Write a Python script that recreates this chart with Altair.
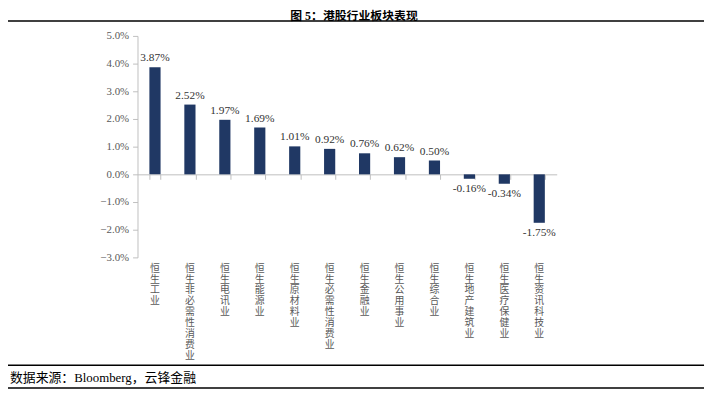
import altair as alt
import pandas as pd

categories = ["恒生工业", "恒生非必需性消费业", "恒生电讯业", "恒生能源业", "恒生原材料业",
              "恒生必需性消费业", "恒生金融业", "恒生公用事业", "恒生综合业", "恒生地产建筑业",
              "恒生医疗保健业", "恒生资讯科技业"]
values = [3.87, 2.52, 1.97, 1.69, 1.01, 0.92, 0.76, 0.62, 0.50, -0.16, -0.34, -1.75]
y_ticks = [-3, -2, -1, 0, 1, 2, 3, 4, 5]
title_text = "图 5：港股行业板块表现"
source_text = "数据来源：Bloomberg，云锋金融"

FONT = "Liberation Serif, Noto Sans CJK SC"
GREY = "#595959"
AX = "#bfbfbf"
NAVY = "#203864"

df = pd.DataFrame({"cat": categories, "v": values})
df["lab"] = df["v"].map(lambda x: f"{x:.2f}%")

W, H = 424, 224

xscale = alt.Scale(paddingInner=0.68, paddingOuter=0.34)
xenc_axis = alt.X("cat:N", sort=categories, title=None, scale=xscale,
                  axis=alt.Axis(orient="bottom", offset=-84, labels=False, domainColor=AX,
                                tickColor=AX, tickSize=5, tickBand="extent", domainWidth=1,
                                title=None))
xenc_lab = alt.X("cat:N", sort=categories, title=None,
                 axis=alt.Axis(orient="bottom", domain=False, ticks=False, labelAngle=0,
                               labelExpr="split(datum.label, '')", labelFont=FONT,
                               labelFontSize=10, labelLineHeight=11, labelColor=GREY,
                               labelPadding=6, labelBaseline="top", title=None,
                               labelOverlap=False))
xenc_none = alt.X("cat:N", sort=categories, title=None, axis=None)
yaxis = alt.Axis(values=y_ticks, labelExpr="format(datum.value, '.1f') + '%'",
                 grid=False, domainColor=AX, tickColor=AX, tickSize=5,
                 labelFont=FONT, labelFontSize=11, labelColor=GREY, labelPadding=4,
                 labelOverlap=False, labelFlush=False, title=None)
yscale = alt.Scale(domain=[-3, 5], nice=False)
yenc = alt.Y("v:Q", title=None, scale=yscale, axis=yaxis)

base = alt.Chart(df)
bars = base.mark_bar(color=NAVY).encode(x=xenc_axis, y=yenc)
labels_axis = base.mark_bar(opacity=0).encode(x=xenc_lab, y=yenc)
pos = base.transform_filter("datum.v >= 0").mark_text(
    baseline="bottom", dy=-4, font=FONT, fontSize=11.5, color="#333333"
).encode(x=xenc_none, y=yenc, text="lab:N")
neg = base.transform_filter("datum.v < 0").mark_text(
    baseline="top", dy=4, font=FONT, fontSize=11.5, color="#333333"
).encode(x=xenc_none, y=yenc, text="lab:N")

one = pd.DataFrame({"a": [0]})
def hline(y):
    return alt.Chart(one).mark_rule(color="black", strokeWidth=1.5).encode(
        x=alt.value(-136), x2=alt.value(573), y=alt.value(y))

title = alt.Chart(pd.DataFrame({"t": [title_text]})).mark_text(
    font=FONT, fontSize=12, fontWeight="bold", color="black", baseline="top"
).encode(x=alt.value(219), y=alt.value(-25), text="t:N")
source = alt.Chart(pd.DataFrame({"t": [source_text]})).mark_text(
    font=FONT, fontSize=13, color="black", align="left", baseline="middle"
).encode(x=alt.value(-129), y=alt.value(346), text="t:N")

chart = alt.layer(bars, labels_axis, pos, neg, hline(-15), hline(333), hline(356), title, source
).resolve_axis(x="independent").properties(
    width=W, height=H, autosize=alt.AutoSizeParams(type="none"),
    padding={"left": 131, "top": 26, "right": 152, "bottom": 142}
).configure_view(stroke=None)

chart.save("out.html", embed_options={"renderer": "svg", "actions": False})
